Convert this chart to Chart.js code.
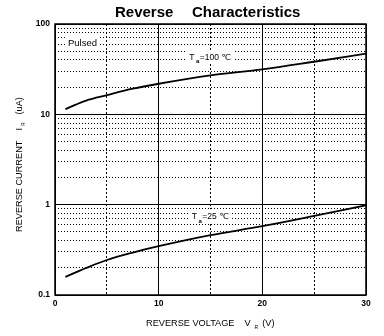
<!DOCTYPE html>
<html><head><meta charset="utf-8">
<script src="https://cdn.jsdelivr.net/npm/chart.js@4.4.0/dist/chart.umd.min.js"></script>
<style>html,body{margin:0;padding:0;background:#fff}canvas{display:block}</style>
</head><body>
<canvas id="c" width="384" height="336"></canvas>
<script>
// ---- data ----
const voltage    = [1, 2, 3, 5, 7.5, 10, 15, 20, 25, 30];            // V_R (V)
const current100 = [11.4, 12.8, 14.2, 16.3, 19.2, 21.8, 27.0, 31.4, 38.2, 46.9]; // I_R (uA), Ta=100C
const current25  = [0.159, 0.178, 0.199, 0.244, 0.295, 0.347, 0.46, 0.578, 0.751, 0.986]; // I_R (uA), Ta=25C
const xMajorTicks = [0, 10, 20, 30];
const xMinorTicks = [5, 15, 25];
const yMajorTicks = [0.1, 1, 10, 100];
const yMinorTicks = [0.2,0.3,0.4,0.5,0.6,0.7,0.8,0.9, 2,3,4,5,6,7,8,9, 20,30,40,50,60,70,80,90];
const titleWords = ['Reverse', 'Characteristics'];

const FONT = '"Liberation Sans", Arial, "DejaVu Sans", sans-serif';

function drawParts(ctx, parts, x0, y0) {
  let x = x0;
  for (const p of parts) {
    x += p.gap || 0;
    ctx.font = (p.bold ? 'bold ' : '') + p.s + 'px ' + FONT;
    ctx.fillText(p.t, x, y0 + (p.dy || 0));
    x += ctx.measureText(p.t).width;
  }
  return x;
}
function partsWidth(ctx, parts) {
  let w = 0;
  for (const p of parts) {
    w += p.gap || 0;
    ctx.font = (p.bold ? 'bold ' : '') + p.s + 'px ' + FONT;
    w += ctx.measureText(p.t).width;
  }
  return w;
}

const textPlugin = {
  id: 'texts',
  afterDraw(chart) {
    const ctx = chart.ctx;
    const a = chart.chartArea;
    const xs = chart.scales.x, ys = chart.scales.y;
    ctx.save();
    // plot frame
    ctx.strokeStyle = '#000';
    ctx.lineWidth = 1.5;
    ctx.strokeRect(a.left, a.top, a.right - a.left, a.bottom - a.top);

    ctx.fillStyle = '#000';
    ctx.textBaseline = 'alphabetic';
    ctx.textAlign = 'left';
    // title
    ctx.font = 'bold 15px ' + FONT;
    ctx.fillText(titleWords[0], 115, 16.5);
    ctx.fillText(titleWords[1], 192, 16.5);

    // x axis title
    drawParts(ctx, [
      {t: 'REVERSE VOLTAGE', s: 9.2},
      {t: 'V', s: 9.2, gap: 10},
      {t: 'R', s: 5, dy: 3, gap: 4},
      {t: '(V)', s: 9.2, gap: 4}
    ], 146, 326);

    // y axis title (rotated)
    ctx.save();
    ctx.translate(22, 232);
    ctx.rotate(-Math.PI / 2);
    drawParts(ctx, [
      {t: 'REVERSE CURRENT', s: 9.2},
      {t: 'I', s: 9.2, gap: 10},
      {t: 'R', s: 5, dy: 3, gap: 2},
      {t: '(uA)', s: 9.2, gap: 8}
    ], 0, 0);
    ctx.restore();

    // annotations (placed in data coordinates)
    const notes = [
      {x: 1.25, y: 57.1, parts: [{t: 'Pulsed', s: 9.5}]},
      {x: 12.95, y: 40, parts: [{t: 'T', s: 8.5}, {t: 'a', s: 6, dy: 3.5, gap: 1.5, bold: true}, {t: '=100 \u2103', s: 8.5, gap: 0.5}]},
      {x: 13.2, y: 0.69, parts: [{t: 'T', s: 8.5}, {t: 'a', s: 6, dy: 3.5, gap: 1.5, bold: true}, {t: '=25 \u2103', s: 8.5, gap: 0.5}]}
    ];
    for (const n of notes) {
      const px = xs.getPixelForValue(n.x);
      const py = ys.getPixelForValue(n.y);
      const w = partsWidth(ctx, n.parts);
      ctx.fillStyle = '#fff';
      ctx.fillRect(px - 3, py - 10, w + 6, 14);
      ctx.fillStyle = '#000';
      drawParts(ctx, n.parts, px, py);
    }
    ctx.restore();
  }
};

const tickFont = {family: FONT, size: 8.5, weight: 'bold'};

new Chart(document.getElementById('c'), {
  type: 'line',
  data: {
    datasets: [
      {
        label: 'Ta=100',
        data: voltage.map((v, i) => ({x: v, y: current100[i]})),
        borderColor: '#000', borderWidth: 1.8, pointRadius: 0,
        cubicInterpolationMode: 'monotone', fill: false
      },
      {
        label: 'Ta=25',
        data: voltage.map((v, i) => ({x: v, y: current25[i]})),
        borderColor: '#000', borderWidth: 1.8, pointRadius: 0,
        cubicInterpolationMode: 'monotone', fill: false
      }
    ]
  },
  options: {
    responsive: false,
    animation: false,
    events: [],
    devicePixelRatio: 1,
    layout: {padding: {top: 24, right: 18, left: 0, bottom: 0}},
    plugins: {legend: {display: false}, tooltip: {enabled: false}, title: {display: false}},
    scales: {
      x: {
        type: 'linear', position: 'bottom', min: 0, max: 30,
        afterBuildTicks: s => { s.ticks = xMajorTicks.map(v => ({value: v})); },
        afterFit: s => { s.height = 41; },
        grid: {color: '#000', lineWidth: 1, drawTicks: false},
        border: {display: false},
        ticks: {padding: 4, color: '#000', font: tickFont, maxRotation: 0, autoSkip: false, callback: v => String(v)}
      },
      xMinor: {
        type: 'linear', position: 'bottom', min: 0, max: 30,
        afterBuildTicks: s => { s.ticks = xMinorTicks.map(v => ({value: v})); },
        afterFit: s => { s.height = 0; },
        grid: {color: '#000', lineWidth: 1, drawTicks: false},
        border: {display: false, dash: [2, 2]},
        ticks: {display: false}
      },
      y: {
        type: 'logarithmic', position: 'left', min: 0.1, max: 100,
        afterBuildTicks: s => { s.ticks = yMajorTicks.map(v => ({value: v})); },
        afterFit: s => { s.width = 55; },
        grid: {color: '#000', lineWidth: 1, drawTicks: false},
        border: {display: false},
        ticks: {padding: 5, color: '#000', font: tickFont, autoSkip: false, callback: v => String(v)}
      },
      yMinor: {
        type: 'logarithmic', position: 'left', min: 0.1, max: 100,
        afterBuildTicks: s => { s.ticks = yMinorTicks.map(v => ({value: v})); },
        afterFit: s => { s.width = 0; },
        grid: {color: '#000', lineWidth: 1, drawTicks: false},
        border: {display: false, dash: [1, 2]},
        ticks: {display: false}
      }
    }
  },
  plugins: [textPlugin]
});
</script>
</body></html>
